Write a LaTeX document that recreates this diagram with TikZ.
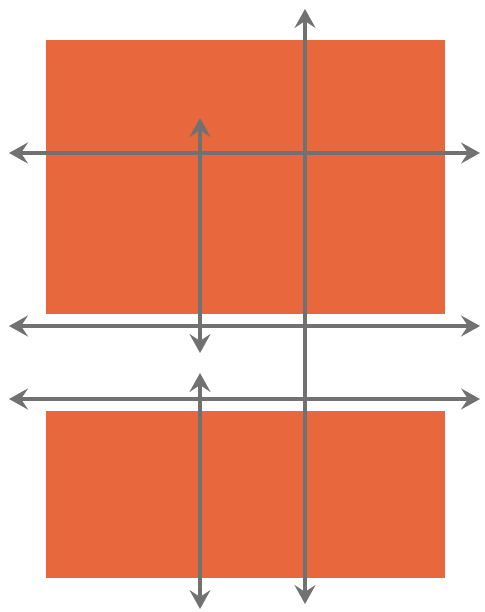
\documentclass[tikz,border=0pt]{standalone}
\usetikzlibrary{arrows.meta}
\definecolor{blockorange}{HTML}{E8673C}
\definecolor{arrowgray}{HTML}{717171}
\begin{document}
\begin{tikzpicture}[x=1pt,y=-1pt,
  block/.style={fill=blockorange,draw=none},
  dbl/.style={draw=arrowgray,line width=3.4pt,{Stealth[length=19pt,width=21pt,inset=7pt]}-{Stealth[length=19pt,width=21pt,inset=7pt]}}]
\useasboundingbox (0,0) rectangle (484,612);
\fill[white] (0,0) rectangle (484,612);
\path[block] (46,40) rectangle (445,314);
\path[block] (46,411) rectangle (445,578);
\coordinate (vt) at (305,9);
\coordinate (vb) at (305,604);
\coordinate (at) at (200,118);
\coordinate (ab) at (200,353);
\coordinate (bt) at (200,373);
\coordinate (bb) at (200,609);
\coordinate (h1l) at (9,153);
\coordinate (h1r) at (480,153);
\coordinate (h2l) at (9,326);
\coordinate (h2r) at (480,326);
\coordinate (h3l) at (9,399);
\coordinate (h3r) at (480,399);
\draw[dbl] (vt) -- (vb);
\draw[dbl] (at) -- (ab);
\draw[dbl] (bt) -- (bb);
\draw[dbl] (h1l) -- (h1r);
\draw[dbl] (h2l) -- (h2r);
\draw[dbl] (h3l) -- (h3r);
\end{tikzpicture}
\end{document}
